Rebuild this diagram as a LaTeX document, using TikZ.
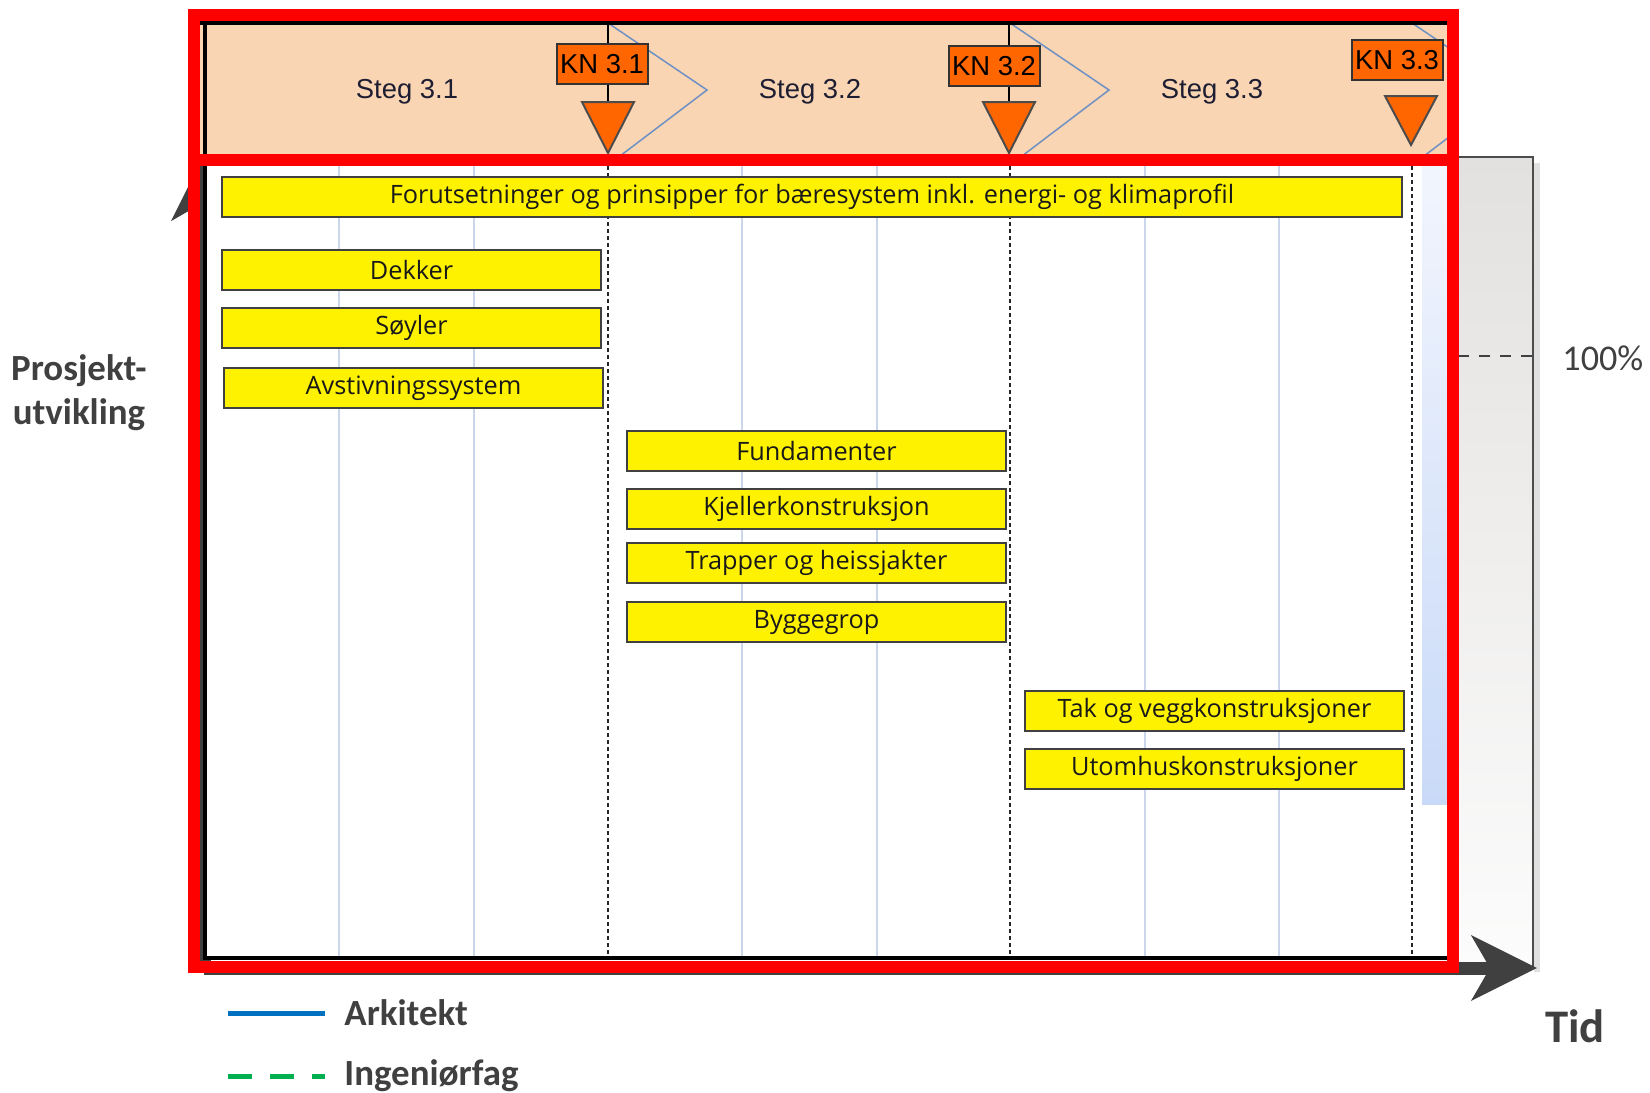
\documentclass[tikz,border=0pt]{standalone}
\usepackage{fontspec}
\setmainfont{Liberation Sans}
\newfontfamily\barfont{Open Sans}
\newfontfamily\calfont{Carlito}
\usepackage{tikz}
\usetikzlibrary{arrows.meta,positioning,calc}
\definecolor{peach}{RGB}{250,213,180}
\definecolor{knorange}{RGB}{255,102,0}
\definecolor{axisgray}{RGB}{64,64,64}
\definecolor{gridblue}{RGB}{204,214,234}
\definecolor{chevblue}{RGB}{110,145,195}
\definecolor{framered}{RGB}{255,0,0}
\definecolor{stegtext}{RGB}{30,30,50}
\definecolor{arkblue}{RGB}{0,112,192}
\definecolor{ingreen}{RGB}{0,176,80}
\definecolor{panelgray}{RGB}{227,225,223}
\definecolor{paneltail}{RGB}{252,252,252}
\definecolor{bartop}{RGB}{242,245,253}
\definecolor{barbottom}{RGB}{201,218,248}

\begin{document}
\begin{tikzpicture}[
  x=0.1mm, y=-0.1mm,
  bar/.style={draw=black!75, line width=0.2mm, fill=yellow, minimum width=37.9mm, minimum height=4mm, inner sep=0pt, font=\barfont\fontsize{7.2}{8}\selectfont, text=black!90},
  widebar/.style={bar, minimum width=118mm},
  kn/.style={draw=black!80, line width=0.2mm, fill=knorange, minimum width=9.1mm, minimum height=4mm, inner sep=0pt, font=\fontsize{7.8}{9}\selectfont},
  milestone/.style={draw=black!70, line width=0.2mm, fill=knorange},
  steg/.style={font=\fontsize{7.8}{9}\selectfont, text=stegtext},
  gate/.style={black, line width=0.2mm},
  gatedash/.style={black!85, line width=0.15mm, dash pattern=on 0.4mm off 0.3mm},
  gridline/.style={gridblue, line width=0.15mm},
  chevron/.style={chevblue, line width=0.15mm},
  axis/.style={axisgray, line width=1.3mm, -{Stealth[length=6.5mm, width=6.4mm, inset=1.8mm]}},
  frame/.style={framered, line width=1.2mm},
  axislabel/.style={font=\calfont\bfseries\fontsize{10.5}{12.5}\selectfont, text=axisgray},
  legendline/.style={line width=0.5mm}
]
\useasboundingbox (0,0) rectangle (1650,1092);

\shade[top color=panelgray, bottom color=paneltail] (900,157) rectangle (1533,968);
\draw[black!12, line width=0.6mm] (1537,163) -- (1537,972);
\draw[black!70, line width=0.2mm] (900,157) -- (1533,157) -- (1533,968);
\draw[axisgray, line width=0.15mm, dashed] (1458,356) -- (1533,356);

\coordinate (origin) at (204,968);
\coordinate (yend) at (204,155);
\coordinate (xend) at (1537,968);
\draw[axis] (origin) -- (yend);
\draw[axis] (origin) -- (xend);

\fill[peach] (200,22) rectangle (1448,156);
\fill[white] (204,166) rectangle (1448,958);
\foreach \gx in {339,474,742,877,1145,1279}
  \draw[gridline] (\gx,166) -- (\gx,958);
\shade[top color=bartop, bottom color=barbottom] (1422,166) rectangle (1448,804);
\foreach \gx in {608,1010,1412}
  \draw[gatedash] (\gx,166) -- (\gx,958);

\begin{scope}
  \clip (200,22) rectangle (1448,156);
  \foreach \gx in {608,1010,1412}
    \draw[chevron] (\gx,23) -- (\gx+99,90) -- (\gx+12,156);
\end{scope}

\coordinate (hdtop) at (0,23);
\coordinate (t1) at (608,102);
\coordinate (t2) at (1009,102);
\coordinate (t3) at (1411,96);
\node[kn] (kn1) at (602,64) {KN 3.1};
\node[kn] (kn2) at (994,66) {KN 3.2};
\node[kn] (kn3) at (1397,60) {KN 3.3};
\draw[gate] (t1 |- hdtop) -- (kn1.north -| t1);
\draw[gate] (kn1.south -| t1) -- (t1);
\draw[gate] (t2 |- hdtop) -- (kn2.north -| t2);
\draw[gate] (kn2.south -| t2) -- (t2);
\filldraw[milestone] (t1) ++(-26,0) -- ++(52,0) -- ++(-26,51) -- cycle;
\filldraw[milestone] (t2) ++(-26,0) -- ++(52,0) -- ++(-26,51) -- cycle;
\filldraw[milestone] (t3) ++(-26,0) -- ++(52,0) -- ++(-26,49) -- cycle;

\node[steg] (steg1) at (407,92) {Steg 3.1};
\node[steg] (steg2) at (810,92) {Steg 3.2};
\node[steg] (steg3) at (1212,92) {Steg 3.3};

\draw[black, line width=0.35mm] (200,23) -- (1448,23);
\draw[black, line width=0.45mm] (205,22) -- (205,958) -- (1448,958);

\node[widebar] (premiss) at (812,197) {Forutsetninger og prinsipper for bæresystem inkl. energi- og klimaprofil};
\node[bar] (dekker) at (411.5,270) {Dekker};
\node[bar] (soyler) at (411.5,328) {Søyler};
\node[bar] (avstiv) at (413.5,388) {Avstivningssystem};
\node[bar] (fund) at (816.5,451) {Fundamenter};
\node[bar] (kjeller) at (816.5,509) {Kjellerkonstruksjon};
\node[bar] (trapper) at (816.5,563) {Trapper og heissjakter};
\node[bar] (grop) at (816.5,622) {Byggegrop};
\node[bar] (tak) at (1214.5,711) {Tak og veggkonstruksjoner};
\node[bar] (utomhus) at (1214.5,769) {Utomhuskonstruksjoner};

\draw[frame] (194,15) rectangle (1453,967);
\draw[frame] (194,160) -- (1453,160);

\node[axislabel, align=center] (yaxis) at (79,393) {Prosjekt-\\utvikling};
\node[axislabel, font=\calfont\bfseries\fontsize{13.3}{15}\selectfont] (xaxis) at (1575,1026) {Tid};
\node[anchor=east, inner sep=0pt, font=\calfont\fontsize{10.3}{12}\selectfont, text=axisgray] (pct) at (1644,358) {100\%};

\node[axislabel, anchor=west] (ark) at (332,1013) {Arkitekt};
\node[axislabel, anchor=west] (ing) at (332,1076) {Ingeniørfag};
\draw[legendline, arkblue] ([xshift=-10.4mm]ark.west) -- ([xshift=-0.7mm]ark.west);
\draw[legendline, ingreen, dash pattern=on 2.4mm off 1.8mm] ([xshift=-10.4mm]ing.west) -- ([xshift=-0.7mm]ing.west);
\end{tikzpicture}
\end{document}
